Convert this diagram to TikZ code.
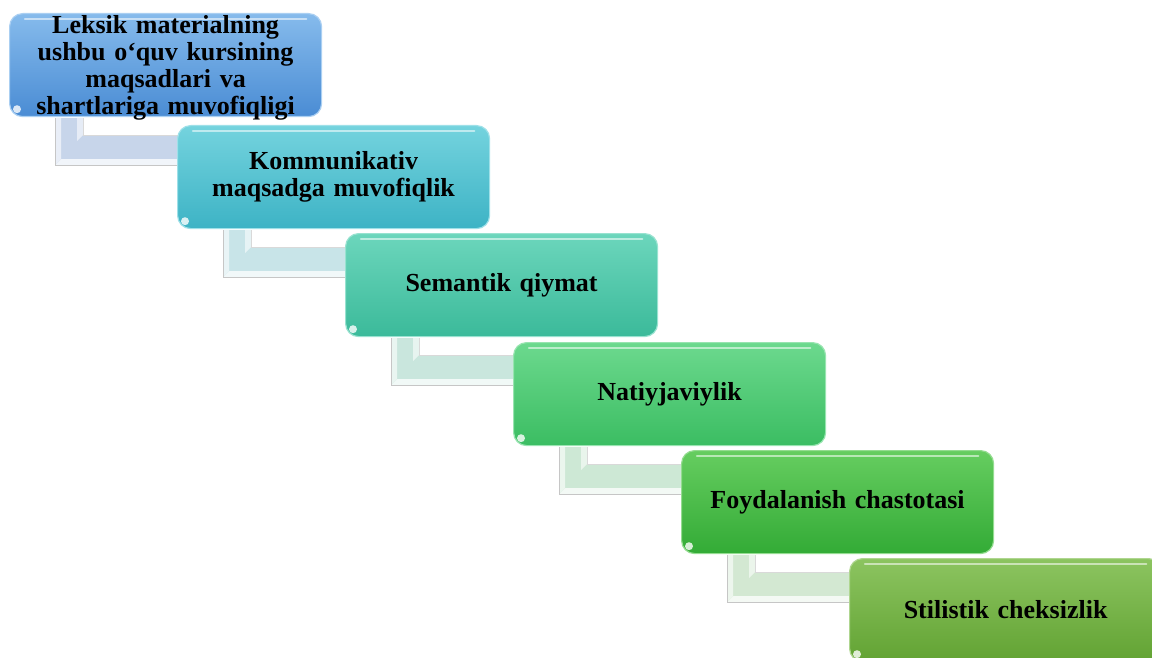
\documentclass[tikz,border=0pt]{standalone}
\usepackage{fontspec}
\setmainfont{Liberation Serif}
\usetikzlibrary{calc}
\definecolor{c1t}{HTML}{86BBEC}\definecolor{c1b}{HTML}{4A8CD4}
\definecolor{c2t}{HTML}{74D3DE}\definecolor{c2b}{HTML}{3DB3C5}
\definecolor{c3t}{HTML}{6CD6BC}\definecolor{c3b}{HTML}{3BBA9A}
\definecolor{c4t}{HTML}{6CD98E}\definecolor{c4b}{HTML}{3BBD62}
\definecolor{c5t}{HTML}{66CD60}\definecolor{c5b}{HTML}{33AB36}
\definecolor{c6t}{HTML}{8CC460}\definecolor{c6b}{HTML}{62A333}
\definecolor{k1}{HTML}{C7D5EA}\definecolor{k2}{HTML}{C8E4E8}
\definecolor{k3}{HTML}{C9E6DD}\definecolor{k4}{HTML}{CDE8D5}
\definecolor{k5}{HTML}{D3E8D2}
\tikzset{
  stepbox/.style={rounded corners=13pt, minimum width=312pt, minimum height=103pt,
    inner sep=2pt, text width=306pt, align=center, anchor=north west,
    font=\fontsize{26}{27}\selectfont\bfseries, line width=1.2pt},
  bx/.style n args={2}{stepbox, top color=#1, bottom color=#2, draw=#1!70!white},
  link/.style={draw=gray!45, line width=0.8pt, line join=miter},
  gloss/.style={white, opacity=0.55, line width=2.5pt, line cap=round},
}
% #1 source box, #2 target box, #3 fill colour
\newcommand{\linkshape}[3]{%
  \coordinate (#1-a) at ($(#1.south west)+(46pt,-1pt)$);
  \coordinate (#1-b) at ($(#1.south west)+(46pt,-48pt)$);
  \coordinate (#1-c) at ($(#1.south west)+(74pt,-1pt)$);
  \coordinate (#1-d) at ($(#1.south west)+(74pt,-18pt)$);
  \coordinate (#1-e) at ($(#2.west |- #1-b)+(12pt,0pt)$);
  \coordinate (#1-f) at ($(#2.west |- #1-d)+(12pt,0pt)$);
  \fill[#3] (#1-a) -- (#1-b) -- (#1-e) -- (#1-f) -- (#1-d) -- (#1-c) -- cycle;
  \fill[white!75!#3] (#1-b) -- (#1-e) -- ($(#1-e)+(0,6pt)$) -- ($(#1-b)+(6pt,6pt)$) -- cycle;
  \fill[white!60!#3] (#1-a) -- (#1-b) -- ($(#1-b)+(6pt,6pt)$) -- ($(#1-a)+(6pt,0)$) -- cycle;
  \fill[white!55!#3] (#1-c) -- (#1-d) -- ($(#1-d)+(-6pt,-6pt)$) -- ($(#1-c)+(-6pt,0)$) -- cycle;
  \draw[link] (#1-a) -- (#1-b) -- (#1-e);
  \draw[link, draw=gray!30] (#1-c) -- (#1-d) -- (#1-f);
}
% glossy highlights on a box
\newcommand{\glossy}[1]{%
  \draw[gloss] ($(#1.north west)+(16pt,-6pt)$) -- ($(#1.north east)+(-16pt,-6pt)$);
  \fill[white, opacity=0.8, rounded corners=4pt] ($(#1.south west)+(4pt,4pt)$)
    rectangle ($(#1.south west)+(12pt,12pt)$);
}
\begin{document}
\begin{tikzpicture}[x=1pt,y=-1pt]
\useasboundingbox (0,0) rectangle (1152,658);
\clip (0,0) rectangle (1152,658);
% placement nodes (for link anchors)
\node[stepbox, draw=none] (b1) at (9,13) {};
\node[stepbox, draw=none] (b2) at (177,125) {};
\node[stepbox, draw=none] (b3) at (345,233) {};
\node[stepbox, draw=none] (b4) at (513,342) {};
\node[stepbox, draw=none] (b5) at (681,450) {};
\node[stepbox, draw=none] (b6) at (849,558) {};
% connectors
\linkshape{b1}{b2}{k1}
\linkshape{b2}{b3}{k2}
\linkshape{b3}{b4}{k3}
\linkshape{b4}{b5}{k4}
\linkshape{b5}{b6}{k5}
% boxes
\node[bx={c1t}{c1b}] (n1) at (9,13) {};
\glossy{n1}
\node[stepbox] at (n1.north west) {Leksik materialning\\ushbu o‘quv kursining\\maqsadlari va\\shartlariga muvofiqligi};
\node[bx={c2t}{c2b}] (n2) at (177,125) {Kommunikativ\\maqsadga muvofiqlik};
\glossy{n2}
\node[bx={c3t}{c3b}] (n3) at (345,233) {Semantik qiymat};
\glossy{n3}
\node[bx={c4t}{c4b}] (n4) at (513,342) {Natiyjaviylik};
\glossy{n4}
\node[bx={c5t}{c5b}] (n5) at (681,450) {Foydalanish chastotasi};
\glossy{n5}
\node[bx={c6t}{c6b}] (n6) at (849,558) {Stilistik cheksizlik};
\glossy{n6}
\end{tikzpicture}
\end{document}
